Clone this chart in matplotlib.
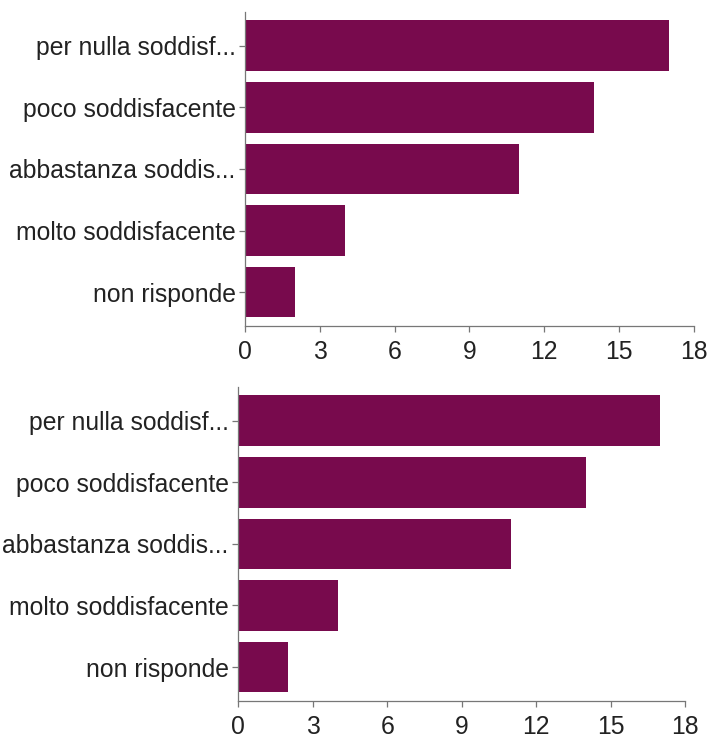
import matplotlib.pyplot as plt

plt.rcParams['font.family'] = ['Liberation Sans', 'DejaVu Sans']

categories = ['per nulla soddisf...', 'poco soddisfacente', 'abbastanza soddis...',
              'molto soddisfacente', 'non risponde']
counts_top = [17, 14, 11, 4, 2]
counts_bottom = [17, 14, 11, 4, 2]
x_ticks = [0, 3, 6, 9, 12, 15, 18]

BAR_COLOR = '#780a4d'


def plot_bars(ax, values):
    ax.barh(range(len(categories)), values, height=0.82, color=BAR_COLOR)
    ax.set_yticks(range(len(categories)))
    ax.set_yticklabels(categories)
    ax.set_ylim(len(categories) - 0.45, -0.55)
    ax.set_xlim(0, 18)
    ax.set_xticks(x_ticks)
    for side in ['top', 'right']:
        ax.spines[side].set_visible(False)
    for side in ['left', 'bottom']:
        ax.spines[side].set_color('#777777')
        ax.spines[side].set_linewidth(0.9)
    ax.tick_params(axis='both', labelsize=17.8, colors='#777777', labelcolor='#222222',
                   length=4, width=0.9, pad=3)
    ax.tick_params(axis='x', pad=6)


fig = plt.figure(figsize=(7.07, 7.41), dpi=100)
ax1 = fig.add_axes([0.347, 0.560, 0.634, 0.424])
ax2 = fig.add_axes([0.337, 0.054, 0.632, 0.424])

plot_bars(ax1, counts_top)
plot_bars(ax2, counts_bottom)

fig.savefig('out.png', dpi=100)
